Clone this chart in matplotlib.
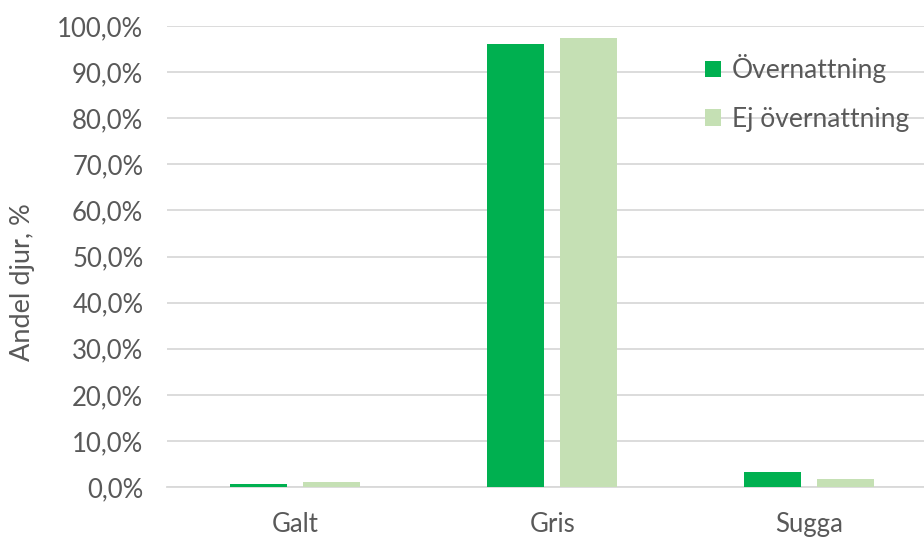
import matplotlib.pyplot as plt
import numpy as np
from matplotlib.ticker import FuncFormatter

categories = ["Galt", "Gris", "Sugga"]
overnattning = [0.7, 96.1, 3.2]
ej_overnattning = [1.0, 97.3, 1.8]

plt.rcParams['font.family'] = ['Lato', 'DejaVu Sans']
text_color = "#595959"

fig = plt.figure(figsize=(9.24, 5.4), dpi=100)
ax = fig.add_axes([0.1807, 0.0981, 0.834, 0.8538])

x = np.arange(len(categories))
w = 0.222
off = 0.142
ax.bar(x - off, overnattning, w, color="#00B050", label="Övernattning", zorder=3)
ax.bar(x + off, ej_overnattning, w, color="#C5E0B4", label="Ej övernattning", zorder=3)

ax.set_xlim(-0.5, 2.5)
ax.set_ylim(0, 100)
ax.set_yticks(np.arange(0, 101, 10))
ax.yaxis.set_major_formatter(FuncFormatter(lambda v, p: f"{v:.1f}%".replace(".", ",")))
ax.set_xticks(x, categories)

ax.grid(axis="y", color="#D9D9D9", linewidth=1.3, zorder=0)
for s in ["top", "right", "left"]:
    ax.spines[s].set_visible(False)
ax.spines["bottom"].set_color("#D9D9D9")
ax.spines["bottom"].set_linewidth(1.3)
ax.tick_params(axis="both", length=0, labelsize=18.5, labelcolor=text_color)
ax.tick_params(axis="x", pad=18)
ax.tick_params(axis="y", pad=17)

ax.set_ylabel("Andel djur, %", fontsize=19.5, color=text_color)
ax.yaxis.set_label_coords(-0.171, 0.445)

ax.legend(loc="upper left", bbox_to_anchor=(0.668, 0.99), frameon=False,
          fontsize=19, labelcolor=text_color, handlelength=0.6, handleheight=0.6,
          handletextpad=0.4, labelspacing=0.9)

plt.savefig("out.png", dpi=100)
